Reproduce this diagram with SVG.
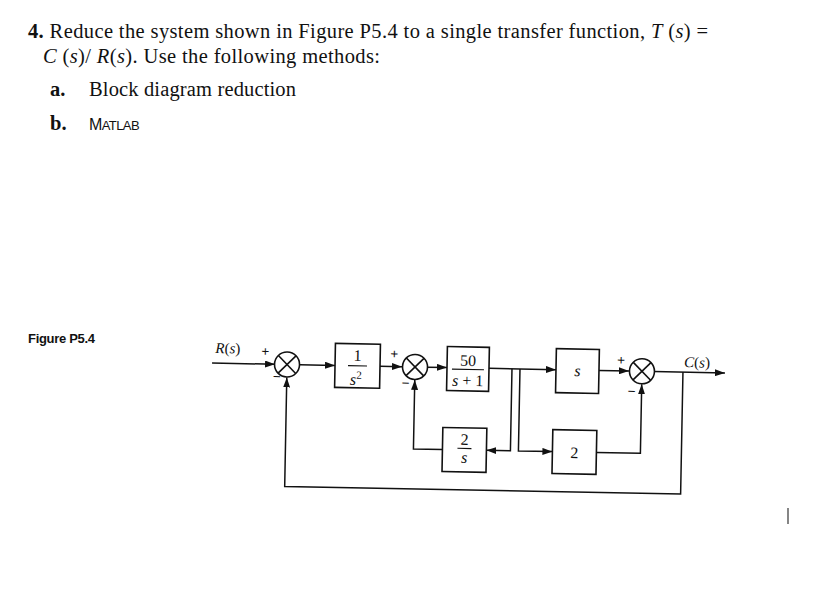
<svg xmlns="http://www.w3.org/2000/svg" width="831" height="590" viewBox="0 0 831 590">
<defs>
<marker id="arr" markerUnits="userSpaceOnUse" markerWidth="10" markerHeight="7" refX="10" refY="3.5" orient="auto">
<path d="M0,0 L10,3.5 L0,7 z" fill="#111"/>
</marker>
<style>
.t{font-family:"Liberation Serif","Times New Roman",serif;fill:#111}
.h{font-size:20.5px}
.b{font-weight:bold}
.i{font-style:italic}
.blk{fill:#fff;stroke:#111;stroke-width:1.6}
.sum circle{fill:#fff;stroke:#111;stroke-width:1.6}
.sum line{stroke:#111;stroke-width:1.6}
.w{fill:none;stroke:#111;stroke-width:1.5}
.wa{fill:none;stroke:#111;stroke-width:1.5;marker-end:url(#arr)}
.m{font-size:16px;text-anchor:middle}
.fl{stroke:#111;stroke-width:1.2}
.sg{font-size:14px;text-anchor:middle;font-weight:bold}
</style>
</defs>
<rect width="831" height="590" fill="#fff"/>
<g id="problem-text">
<text class="t h" x="28" y="38" textLength="680" lengthAdjust="spacing"><tspan class="b">4.</tspan> Reduce the system shown in Figure P5.4 to a single transfer function, <tspan class="i">T</tspan> (<tspan class="i">s</tspan>) =</text>
<text class="t h" x="43" y="63" textLength="337" lengthAdjust="spacing"><tspan class="i">C</tspan> (<tspan class="i">s</tspan>)/ <tspan class="i">R</tspan>(<tspan class="i">s</tspan>). Use the following methods:</text>
<text class="t h" x="50" y="96"><tspan class="b">a.</tspan></text>
<text class="t h" x="89" y="96" textLength="207" lengthAdjust="spacing">Block diagram reduction</text>
<text class="t h" x="50" y="130"><tspan class="b">b.</tspan></text>
<text x="89" y="130" style="font-family:'Liberation Sans',Arial,sans-serif;font-size:16px;fill:#111;letter-spacing:-0.6px">M<tspan style="font-size:13px">ATLAB</tspan></text>
<text x="28" y="343" style="font-family:'Liberation Sans',Arial,sans-serif;font-size:13px;font-weight:bold;fill:#111;letter-spacing:-0.3px">Figure P5.4</text>
</g>
<line x1="788" y1="508" x2="788" y2="524" stroke="#444" stroke-width="1.3"/>
<g id="diagram" transform="rotate(1.1 470 420)">
<g id="connectors">
<path class="wa" d="M211,368 H274"/>
<path class="wa" d="M299,368 H334"/>
<path class="wa" d="M379,368 H401"/>
<path class="wa" d="M426,368 H446"/>
<path class="wa" d="M488,368 H555"/>
<path class="wa" d="M598,368 H628"/>
<path class="wa" d="M653,368 H724"/>
<path class="wa" d="M511,368 V450 H487"/>
<path class="wa" d="M443,450 H414 V381"/>
<path class="wa" d="M519,368 V450 H553"/>
<path class="wa" d="M597,450 H641 V381"/>
<path class="wa" d="M682,368 V490 H286 V381"/>
</g>
<g id="labels">
<text class="t i" x="214" y="358" style="font-size:15px">R<tspan style="font-style:normal">(</tspan>s<tspan style="font-style:normal">)</tspan></text>
<text class="t i" x="683" y="363" style="font-size:15px">C<tspan style="font-style:normal">(</tspan>s<tspan style="font-style:normal">)</tspan></text>
</g>
<g id="sum1" class="sum">
<circle cx="286" cy="368" r="12.5"/>
<line x1="277.2" y1="359.2" x2="294.8" y2="376.8"/>
<line x1="277.2" y1="376.8" x2="294.8" y2="359.2"/>
<text class="t sg" x="264" y="360">+</text>
<text class="t sg" x="276" y="385">−</text>
</g>
<g id="block-1-s2">
<rect class="blk" x="334" y="346" width="45" height="44"/>
<text class="t m" x="356.5" y="363">1</text>
<line class="fl" x1="347" y1="368" x2="366" y2="368"/>
<text class="t m i" x="355" y="387">s<tspan dy="-6" style="font-size:11px;font-style:normal">2</tspan></text>
</g>
<g id="sum2" class="sum">
<circle cx="414" cy="368" r="12.5"/>
<line x1="405.2" y1="359.2" x2="422.8" y2="376.8"/>
<line x1="405.2" y1="376.8" x2="422.8" y2="359.2"/>
<text class="t sg" x="393" y="360">+</text>
<text class="t sg" x="405" y="389">−</text>
</g>
<g id="block-50-s1">
<rect class="blk" x="446" y="347" width="42" height="44"/>
<text class="t m" x="467" y="366">50</text>
<line class="fl" x1="451" y1="369.5" x2="483" y2="369.5"/>
<text class="t m" x="467" y="386"><tspan class="i">s</tspan> + 1</text>
</g>
<g id="block-2-s">
<rect class="blk" x="443" y="428" width="44" height="44"/>
<text class="t m" x="465" y="445">2</text>
<line class="fl" x1="458" y1="448.5" x2="472" y2="448.5"/>
<text class="t m i" x="465" y="463">s</text>
</g>
<g id="block-s">
<rect class="blk" x="555" y="347" width="43" height="44"/>
<text class="t m i" x="576.5" y="374">s</text>
</g>
<g id="block-2">
<rect class="blk" x="553" y="428" width="44" height="44"/>
<text class="t m" x="575" y="456">2</text>
</g>
<g id="sum3" class="sum">
<circle cx="641" cy="368" r="12.5"/>
<line x1="632.2" y1="359.2" x2="649.8" y2="376.8"/>
<line x1="632.2" y1="376.8" x2="649.8" y2="359.2"/>
<text class="t sg" x="620" y="362">+</text>
<text class="t sg" x="631" y="393">−</text>
</g>
</g>
</svg>
